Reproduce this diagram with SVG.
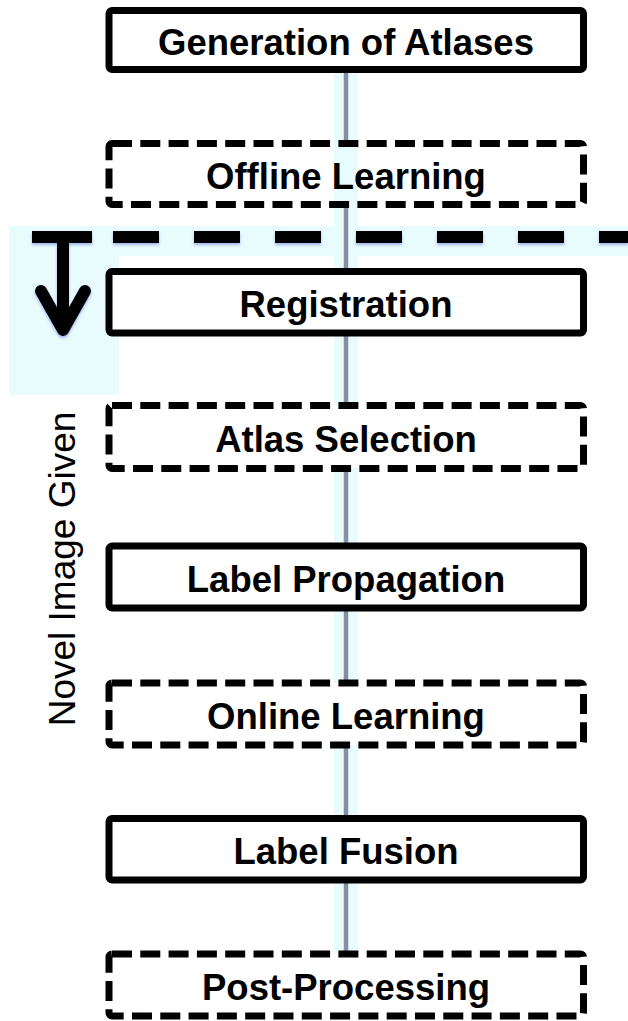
<svg xmlns="http://www.w3.org/2000/svg" width="628" height="1021" viewBox="0 0 628 1021">
  <defs>
    <filter id="shadow" x="-20%" y="-50%" width="140%" height="200%">
      <feDropShadow dx="0" dy="2" stdDeviation="1.8" flood-color="#4a5cd0" flood-opacity="0.45"/>
    </filter>
  </defs>
  <style>
    .box { fill: none; stroke: #000; stroke-width: 7; }
    .solid { fill: #fff; }
    .dashed { stroke-dasharray: 20 8.3; }
    .label { font-family: "Liberation Sans", Arial, sans-serif; font-weight: bold; font-size: 36.5px; text-anchor: middle; fill: #000; }
    .band { fill: #e8fcfd; }
    .conn { stroke: #878ea2; stroke-width: 4.5; }
    .big { stroke: #000; stroke-width: 12; fill: none; }
  </style>

  <!-- background highlight -->
  <rect class="band" x="9" y="226" width="619" height="30"/>
  <rect class="band" x="9" y="226" width="110" height="169"/>

  <g id="connectors">
    <rect class="band" x="334" y="70" width="24" height="202"/>
    <rect class="band" x="334" y="333" width="24" height="73"/>
    <rect class="band" x="334" y="468" width="24" height="78"/>
    <rect class="band" x="334" y="608" width="24" height="75"/>
    <rect class="band" x="334" y="745" width="24" height="74"/>
    <rect class="band" x="334" y="880" width="24" height="74"/>
    <line class="conn" x1="346" y1="70" x2="346" y2="143.5"/>
    <line class="conn" x1="346" y1="204.5" x2="346" y2="271.5"/>
    <line class="conn" x1="346" y1="333" x2="346" y2="405.5"/>
    <line class="conn" x1="346" y1="468.5" x2="346" y2="546"/>
    <line class="conn" x1="346" y1="608" x2="346" y2="683"/>
    <line class="conn" x1="346" y1="745" x2="346" y2="818.5"/>
    <line class="conn" x1="346" y1="880" x2="346" y2="954"/>
  </g>

  <!-- divider with arrow -->
  <g id="divider" filter="url(#shadow)">
    <line class="big" x1="32" y1="237" x2="628" y2="237" stroke-dasharray="46 35"/>
    <line class="big" x1="32" y1="237" x2="92" y2="237"/>
    <line class="big" x1="63" y1="237" x2="63" y2="326"/>
    <polyline class="big" points="41,291 63,330 85,291" stroke-linecap="round" stroke-linejoin="round"/>
  </g>

  <text id="side-label" x="0" y="0" transform="translate(75,569) rotate(-90)" font-family="'Liberation Sans', Arial, sans-serif" font-size="37" text-anchor="middle" fill="#000">Novel Image Given</text>

  <g id="n1">
    <rect class="box solid" x="109" y="10.5" width="474.5" height="59" rx="3"/>
    <text class="label" x="346" y="55">Generation of Atlases</text>
  </g>
  <g id="n2">
    <rect class="box dashed" x="109" y="143.5" width="474.5" height="61" rx="3"/>
    <text class="label" x="346" y="189">Offline Learning</text>
  </g>
  <g id="n3">
    <rect class="box solid" x="109" y="271.5" width="474.5" height="61.5" rx="3"/>
    <text class="label" x="346" y="317">Registration</text>
  </g>
  <g id="n4">
    <rect class="box dashed" x="109" y="405.5" width="474.5" height="63" rx="3"/>
    <text class="label" x="346" y="452">Atlas Selection</text>
  </g>
  <g id="n5">
    <rect class="box solid" x="109" y="546" width="474.5" height="62" rx="3"/>
    <text class="label" x="346" y="592">Label Propagation</text>
  </g>
  <g id="n6">
    <rect class="box dashed" x="109" y="683" width="474.5" height="62" rx="3"/>
    <text class="label" x="346" y="729">Online Learning</text>
  </g>
  <g id="n7">
    <rect class="box solid" x="109" y="818.5" width="474.5" height="61.5" rx="3"/>
    <text class="label" x="346" y="864">Label Fusion</text>
  </g>
  <g id="n8">
    <rect class="box dashed" x="109" y="954" width="474.5" height="62" rx="3"/>
    <text class="label" x="346" y="1000">Post-Processing</text>
  </g>
</svg>
